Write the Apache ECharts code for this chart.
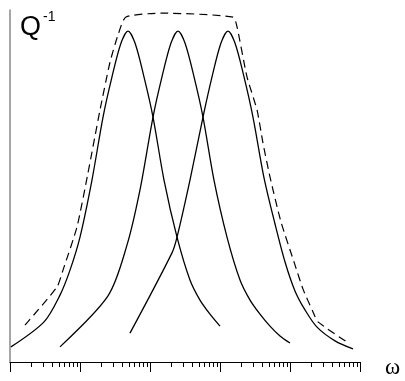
<!DOCTYPE html>
<html>
<head>
<meta charset="utf-8">
<script src="https://cdn.jsdelivr.net/npm/echarts@6/dist/echarts.min.js"></script>
<style>
  html, body { margin: 0; padding: 0; background: #fff; }
  #chart { width: 405px; height: 381px; }
</style>
</head>
<body>
<div id="chart"></div>
<script>
// x = log10(omega) in decades, y = Q^-1 (arbitrary units)
const majorTicks = [0, 1, 2, 3, 4, 5]
const minorTicks = []
for (let d = 0; d < 5; d++) {
  for (let k = 2; k <= 9; k++) minorTicks.push(d + Math.log10(k))
}

const peak1 = [[0.014, 4.3], [0.486, 11.4], [0.714, 19.0], [0.857, 26.1], [1.0, 35.5], [1.171, 51.7], [1.329, 69.6], [1.457, 81.0], [1.586, 90.6], [1.686, 94.0], [1.786, 90.6], [1.914, 81.0], [2.043, 69.6], [2.2, 51.7], [2.386, 35.5], [2.571, 23.3], [2.714, 17.6], [2.857, 13.6], [3.0, 10.2]]
const peak2 = [[0.714, 4.3], [1.4, 18.8], [1.671, 33.2], [1.857, 48.9], [2.043, 69.6], [2.171, 81.0], [2.3, 90.6], [2.4, 94.0], [2.5, 90.6], [2.629, 81.0], [2.757, 69.6], [2.914, 51.7], [3.1, 35.5], [3.286, 23.3], [3.429, 17.6], [3.571, 13.6], [3.714, 10.2], [3.857, 7.4], [4.0, 5.4]]
const peak3 = [[1.714, 8.2], [2.314, 31.0], [2.386, 35.5], [2.571, 51.7], [2.757, 69.6], [2.886, 81.0], [3.014, 90.6], [3.114, 94.0], [3.214, 90.6], [3.343, 81.0], [3.471, 69.6], [3.629, 52.3], [3.786, 39.2], [3.929, 28.4], [4.071, 20.2], [4.214, 14.8], [4.386, 9.9], [4.643, 6.0], [4.9, 3.7]]
const envelope = [[0.214, 10.5], [0.671, 21.3], [0.757, 26.1], [0.957, 38.4], [1.114, 53.7], [1.286, 71.6], [1.429, 85.2], [1.543, 92.9], [1.657, 98.0], [2.186, 99.1], [3.186, 98.0], [3.243, 95.2], [3.386, 81.0], [3.529, 71.6], [3.614, 62.2], [3.714, 52.6], [3.871, 39.8], [4.071, 27.6], [4.186, 20.7], [4.329, 14.2], [4.4, 11.4], [4.857, 5.1]]

const chart = echarts.init(document.getElementById('chart'))

const solid = (data) => ({
  type: 'line',
  data,
  smooth: 0.3,
  symbol: 'none',
  silent: true,
  lineStyle: { color: '#000', width: 1.3 },
})

chart.setOption({
  animation: false,
  grid: { left: 10, right: 45, top: 10, bottom: 19 },
  xAxis: [
    {
      type: 'value',
      min: 0,
      max: 5,
      position: 'bottom',
      axisLine: { onZero: false, lineStyle: { color: '#000', width: 1 } },
      axisTick: { show: true, customValues: majorTicks, length: 10, lineStyle: { color: '#000' } },
      axisLabel: { show: false },
      splitLine: { show: false },
    },
    {
      type: 'value',
      min: 0,
      max: 5,
      position: 'bottom',
      axisLine: { show: false, onZero: false },
      axisTick: { show: true, customValues: minorTicks, length: 5, lineStyle: { color: '#000' } },
      axisLabel: { show: false },
      splitLine: { show: false },
    },
  ],
  yAxis: {
    type: 'value',
    min: 0,
    max: 100,
    axisLine: { show: true, lineStyle: { color: '#888', width: 1.5 } },
    axisTick: { show: false },
    axisLabel: { show: false },
    splitLine: { show: false },
  },
  graphic: [
    {
      type: 'text',
      left: 20,
      top: 14,
      style: { text: 'Q', font: '27px "Liberation Sans", Arial, sans-serif', fill: '#000' },
    },
    {
      type: 'text',
      left: 43,
      top: 10,
      style: { text: '-1', font: '14px "Liberation Sans", Arial, sans-serif', fill: '#000' },
    },
    {
      type: 'text',
      left: 385,
      top: 356,
      style: { text: 'ω', font: '23px "Liberation Serif", "Times New Roman", serif', fill: '#000' },
    },
  ],
  series: [
    solid(peak1),
    solid(peak2),
    solid(peak3),
    {
      type: 'line',
      data: envelope,
      smooth: 0.2,
      symbol: 'none',
      silent: true,
      lineStyle: { color: '#000', width: 1.2, type: [8, 5] },
    },
  ],
})
</script>
</body>
</html>
